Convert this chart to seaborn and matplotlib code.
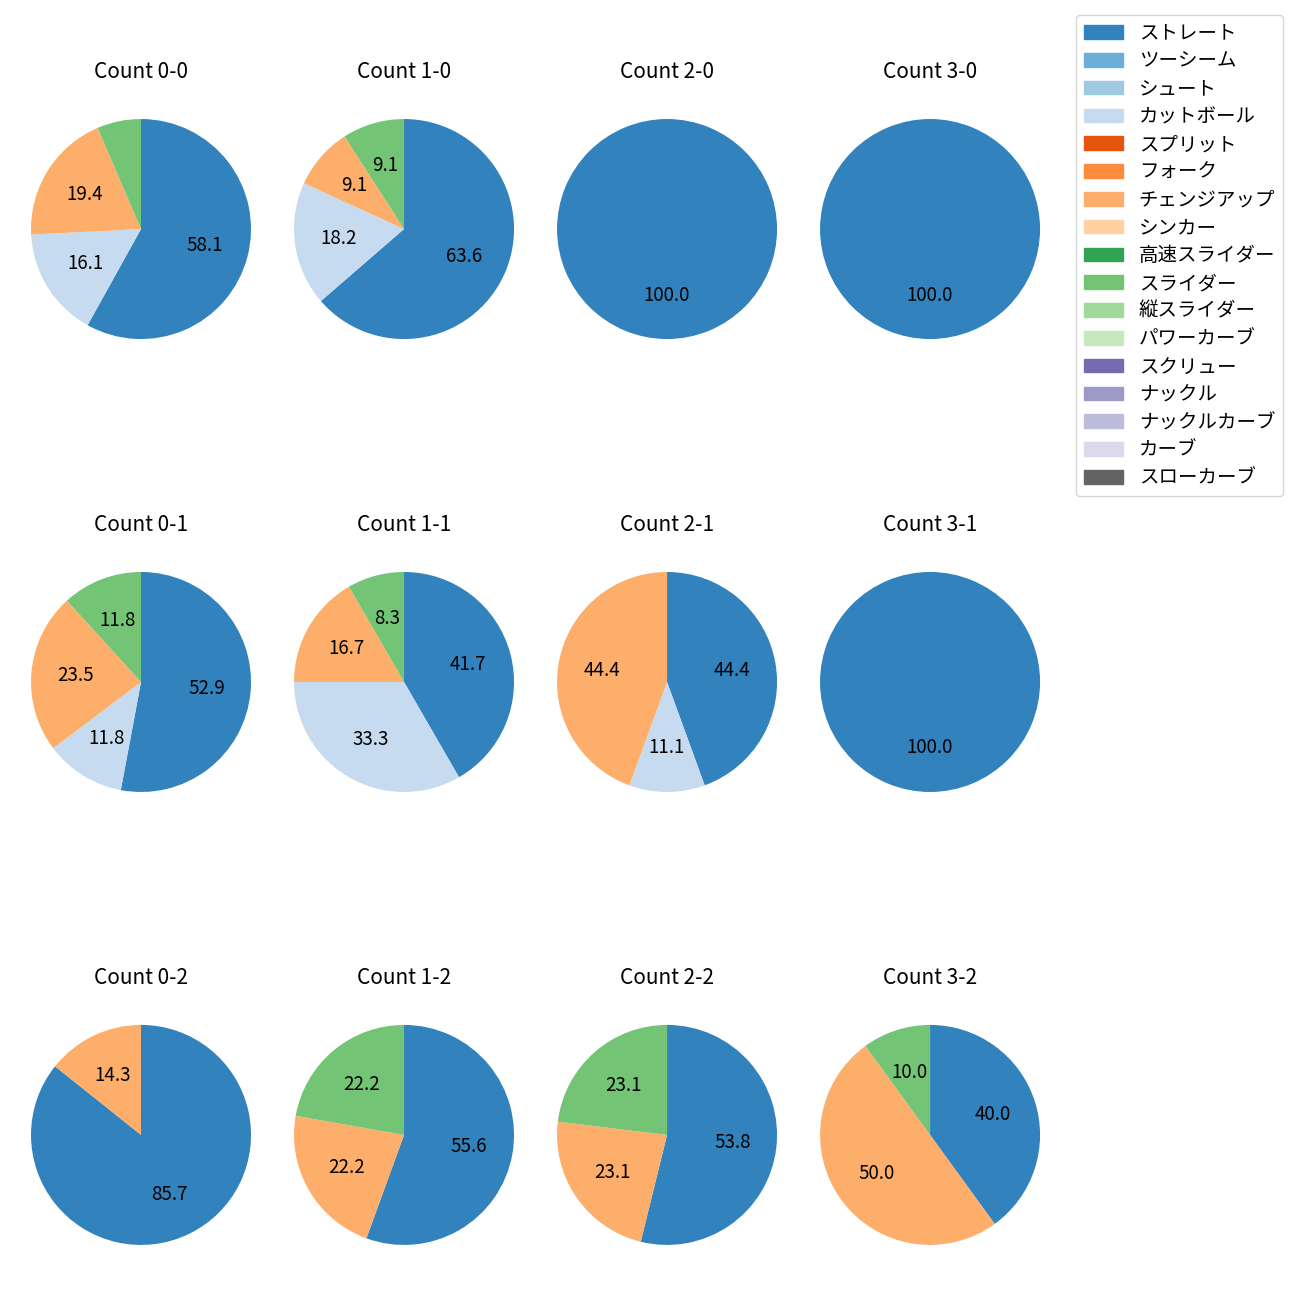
import numpy as np
import seaborn as sns
import matplotlib.pyplot as plt
from matplotlib.patches import Patch

sns.set_theme(style="white")
plt.rcParams['font.family'] = ['Noto Sans CJK JP', 'DejaVu Sans']
plt.rcParams['text.color'] = 'black'

# pitch types (legend order) and colours from tab20c
pitch_types = ['ストレート', 'ツーシーム', 'シュート', 'カットボール', 'スプリット', 'フォーク',
               'チェンジアップ', 'シンカー', '高速スライダー', 'スライダー', '縦スライダー',
               'パワーカーブ', 'スクリュー', 'ナックル', 'ナックルカーブ', 'カーブ', 'スローカーブ']
colors = sns.color_palette('tab20c', 17)

counts = ['0-0', '1-0', '2-0', '3-0',
          '0-1', '1-1', '2-1', '3-1',
          '0-2', '1-2', '2-2', '3-2']

# pitch counts per ball-strike count: straight, cutball, changeup, slider
straight = [18, 7, 1, 1, 9, 5, 4, 1, 6, 5, 7, 4]
cutball  = [5, 2, 0, 0, 2, 4, 1, 0, 0, 0, 0, 0]
changeup = [6, 1, 0, 0, 4, 2, 4, 0, 1, 2, 3, 5]
slider   = [2, 1, 0, 0, 2, 1, 0, 0, 0, 2, 3, 1]

series = {'ストレート': straight, 'カットボール': cutball,
          'チェンジアップ': changeup, 'スライダー': slider}

fig, axes = plt.subplots(3, 4, figsize=(13, 13))
fig.subplots_adjust(left=0.0027, right=0.8212, bottom=0.0212, top=0.9296,
                    wspace=-0.0436, hspace=0.647)


def fmt(p):
    return f'{p:.1f}' if p >= 7 else ''


for i, ax in enumerate(axes.flat):
    names = [n for n in series if series[n][i] > 0]
    vals = [series[n][i] for n in names]
    cols = [colors[pitch_types.index(n)] for n in names]
    ax.pie(vals, colors=cols, startangle=90, counterclock=False,
           autopct=fmt, wedgeprops={'linewidth': 0},
           textprops={'fontsize': 13.5, 'color': 'black'})
    ax.set_title(f'Count {counts[i]}', fontsize=15, color='black', pad=10)

handles = [Patch(color=c, label=n) for n, c in zip(pitch_types, colors)]
fig.legend(handles=handles, loc='upper right', bbox_to_anchor=(0.9944, 0.9959),
           fontsize=14, labelspacing=0.35)

fig.savefig('out.png', dpi=100)
